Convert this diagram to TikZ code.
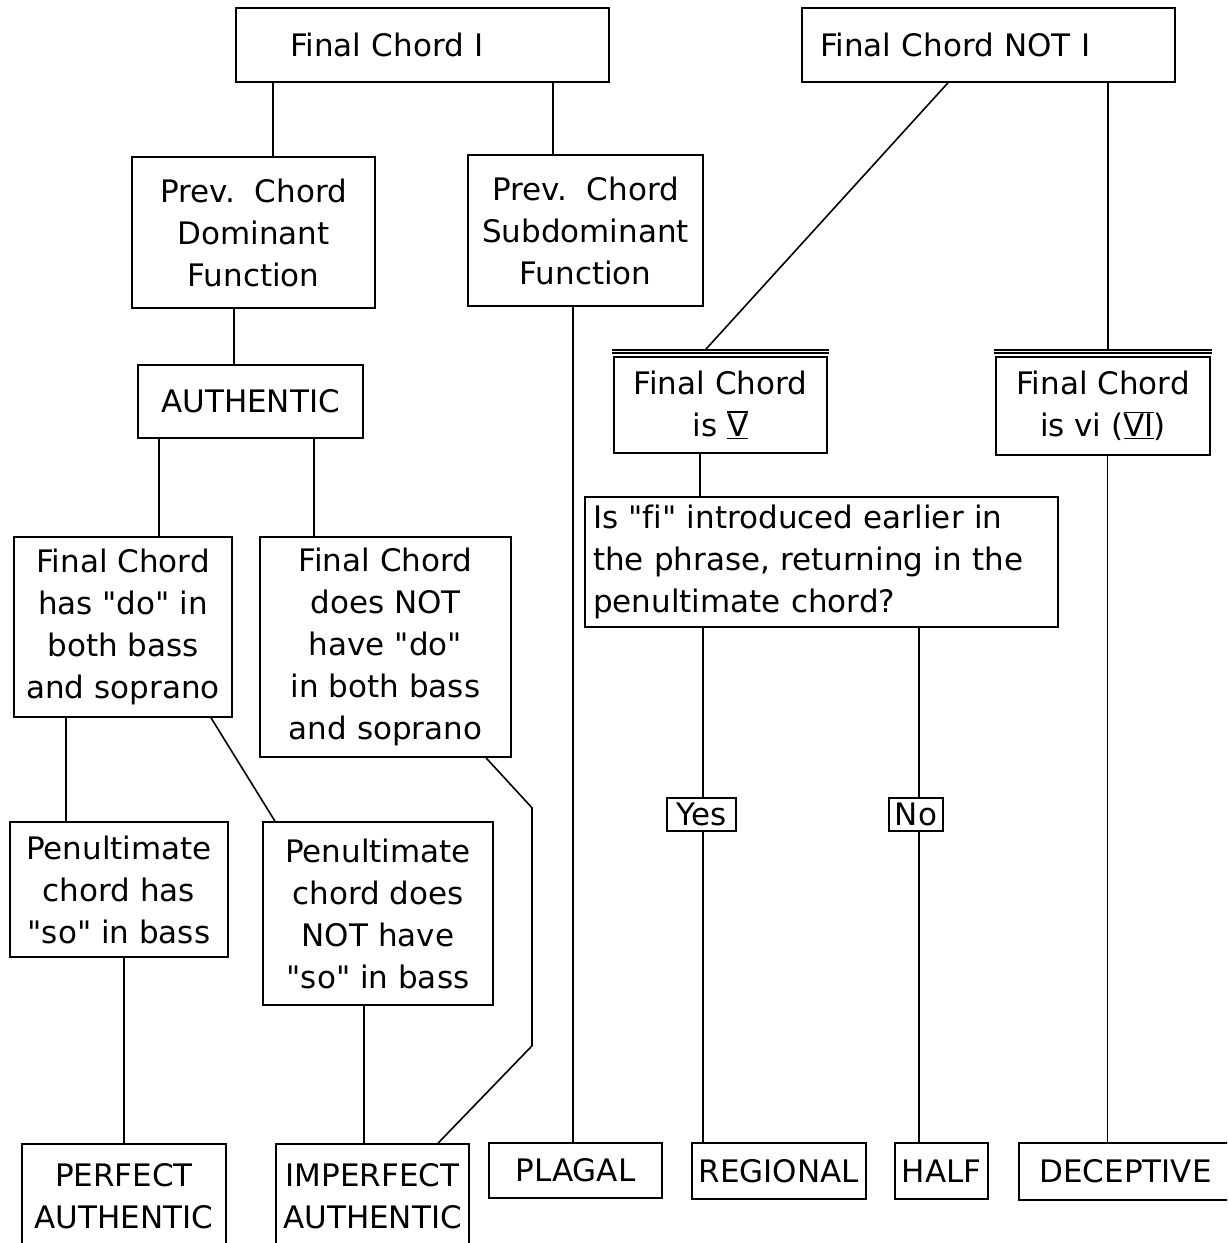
\documentclass[tikz,border=0pt]{standalone}
\usepackage{fontspec}
\setmainfont{DejaVu Sans}[Ligatures={TeXOff,CommonOff}]
\newsavebox{\rnbox}
\newcommand{\romnum}[1]{\sbox{\rnbox}{#1}\rlap{\rule[-2.5pt]{\wd\rnbox}{1.5pt}}\rlap{\rule[\dimexpr\ht\rnbox+1pt\relax]{\wd\rnbox}{1.5pt}}\usebox{\rnbox}}

\begin{document}
\begin{tikzpicture}[x=1pt, y=-1pt, line width=1.6pt, font=\fontsize{31}{42}\selectfont]
\tikzstyle{box}=[draw, inner sep=0pt, align=center]
\tikzstyle{lbox}=[draw, inner ysep=0pt, align=left]
\useasboundingbox (0,0) rectangle (1227,1243);
\clip (0,0) rectangle (1227,1243);
% top
\node[lbox, inner xsep=54pt, text width=265pt, minimum height=74pt] (fcI) at (422.5,45) {Final Chord I};
\node[lbox, inner xsep=18pt, text width=337pt, minimum height=74pt] (fcNot) at (988.5,45) {Final Chord NOT I};
% second level
\node[box, minimum width=243pt, minimum height=151pt] (prevDom) at (253.5,232.5) {Prev.\ \ Chord\\Dominant\\Function};
\node[box, minimum width=235pt, minimum height=151pt] (prevSub) at (585.5,230.5) {Prev.\ \ Chord\\Subdominant\\Function};
\node[box, minimum width=225pt, minimum height=73pt] (authentic) at (250.5,401.5) {AUTHENTIC};
\node[box, minimum width=213pt, minimum height=96pt] (isV) at (720.5,405) {Final Chord\\is \romnum{V}};
\node[box, minimum width=214pt, minimum height=98pt] (isVI) at (1103,406) {Final Chord\\is vi (\romnum{VI})};
\node[lbox, inner xsep=8pt, text width=457pt, minimum height=130pt] (question) at (821.5,562) {Is "fi" introduced earlier in\\the phrase, returning in the\\penultimate chord?};
% authentic branches
\node[box, minimum width=218pt, minimum height=180pt] (hasDo) at (123,627) {Final Chord\\has "do" in\\both bass\\and soprano};
\node[box, minimum width=251pt, minimum height=220pt] (notDo) at (385.5,647) {Final Chord\\does NOT\\have "do"\\in both bass\\and soprano};
\node[box, minimum width=218pt, minimum height=135pt] (penSo) at (119,889.5) {Penultimate\\chord has\\"so" in bass};
\node[box, minimum width=230pt, minimum height=183pt] (penNotSo) at (378,913.5) {Penultimate\\chord does\\NOT have\\"so" in bass};
\node[box, minimum width=69pt, minimum height=33pt] (yes) at (701.5,814.5) {Yes};
\node[box, minimum width=54pt, minimum height=33pt] (no) at (916,814.5) {No};
% cadences
\node[box, minimum width=204pt, minimum height=104pt] (perfect) at (124,1196) {PERFECT\\AUTHENTIC};
\node[box, minimum width=193pt, minimum height=104pt] (imperfect) at (372.5,1196) {IMPERFECT\\AUTHENTIC};
\node[box, minimum width=173pt, minimum height=55pt] (plagal) at (575.5,1170.5) {PLAGAL};
\node[box, minimum width=174pt, minimum height=56pt] (regional) at (778.7,1171) {REGIONAL};
\node[box, minimum width=93pt, minimum height=56pt] (half) at (941.5,1171) {HALF};
\node[box, minimum width=213pt, minimum height=57pt] (deceptive) at (1125.5,1171.5) {DECEPTIVE};
% double rules over the chord boxes
\foreach \n in {isV, isVI} {
  \draw ([xshift=-1pt, yshift=3pt]\n.north west) -- ([xshift=1pt, yshift=3pt]\n.north east);
  \draw ([xshift=-1pt, yshift=6pt]\n.north west) -- ([xshift=1pt, yshift=6pt]\n.north east);
}
% connectors
\draw ([xshift=-149.5pt]fcI.south) -- ([xshift=19.5pt]prevDom.north);
\draw ([xshift=130.5pt]fcI.south) -- ([xshift=-32.5pt]prevSub.north);
\draw ([xshift=-40.5pt]fcNot.south) -- ([xshift=-15.5pt, yshift=6pt]isV.north);
\draw ([xshift=119.5pt]fcNot.south) -- ([xshift=5pt, yshift=6pt]isVI.north);
\draw ([xshift=-19.5pt]prevDom.south) -- ([xshift=-16.5pt]authentic.north);
\draw ([xshift=-12.5pt]prevSub.south) -- ([xshift=-2.5pt]plagal.north);
\draw ([xshift=-91.5pt]authentic.south) -- ([xshift=36pt]hasDo.north);
\draw ([xshift=63.5pt]authentic.south) -- ([xshift=-71.5pt]notDo.north);
\draw ([xshift=-57pt]hasDo.south) -- ([xshift=-53pt]penSo.north);
\draw ([xshift=88pt]hasDo.south) -- ([xshift=-103pt]penNotSo.north);
\draw ([xshift=100.5pt]notDo.south) -- ++(46,50) -- ++(0,238) -- ([xshift=65.5pt]imperfect.north);
\draw ([xshift=5pt]penSo.south) -- (perfect.north);
\draw ([xshift=-14pt]penNotSo.south) -- ([xshift=-8.5pt]imperfect.north);
\draw ([xshift=-20.5pt]isV.south) -- ([xshift=-121.5pt]question.north);
\draw ([xshift=-118.5pt]question.south) -- ([xshift=1.5pt]yes.north);
\draw ([xshift=1.5pt]yes.south) -- ([xshift=-75.7pt]regional.north);
\draw ([xshift=97.5pt]question.south) -- ([xshift=3pt]no.north);
\draw ([xshift=3pt]no.south) -- ([xshift=-22.5pt]half.north);
\draw ([xshift=4.5pt]isVI.south) -- ([xshift=-18pt]deceptive.north);
\end{tikzpicture}
\end{document}
